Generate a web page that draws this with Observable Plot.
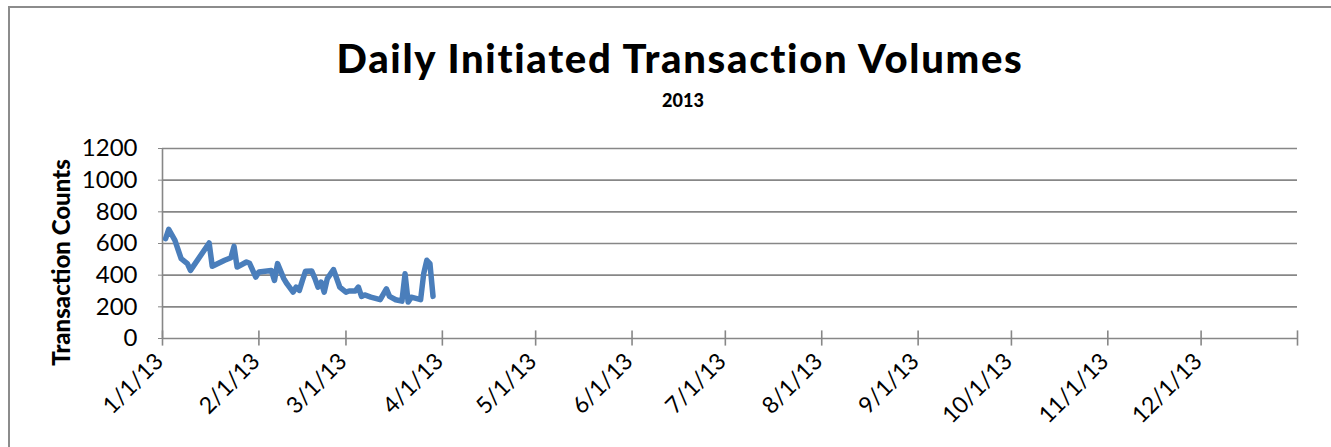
<!DOCTYPE html>
<html><head><meta charset="utf-8">
<script src="https://cdn.jsdelivr.net/npm/d3@7"></script>
<script src="https://cdn.jsdelivr.net/npm/@observablehq/plot@0.6"></script>
<style>
html,body{margin:0;padding:0;background:#fff;}
#wrap{position:relative;width:1331px;height:447px;overflow:hidden;font-family:Lato,sans-serif;}
#border{position:absolute;left:8px;top:6px;width:1400px;height:500px;border:2px solid #8c8c8c;box-sizing:border-box;}
#title{position:absolute;left:0;width:1360px;top:38px;text-align:center;font-size:40px;font-weight:900;letter-spacing:1.7px;line-height:1;color:#000;}
#sub{position:absolute;left:0;width:1366px;top:91px;text-align:center;font-size:18px;font-weight:900;line-height:1;color:#000;}
#chart{position:absolute;left:0;top:130px;}
</style></head>
<body>
<div id="wrap">
<div id="border"></div>
<div id="title">Daily Initiated Transaction Volumes</div>
<div id="sub">2013</div>
<div id="chart"></div>
</div>
<script>
const dates = ["2013-01-02","2013-01-03","2013-01-05","2013-01-07","2013-01-09","2013-01-10","2013-01-16","2013-01-17","2013-01-21","2013-01-23","2013-01-24","2013-01-25","2013-01-28","2013-01-29","2013-01-31","2013-02-01","2013-02-05","2013-02-06","2013-02-07","2013-02-09","2013-02-10","2013-02-12","2013-02-13","2013-02-14","2013-02-15","2013-02-16","2013-02-18","2013-02-19","2013-02-20","2013-02-21","2013-02-22","2013-02-23","2013-02-25","2013-02-27","2013-03-01","2013-03-02","2013-03-04","2013-03-05","2013-03-06","2013-03-07","2013-03-09","2013-03-12","2013-03-14","2013-03-15","2013-03-17","2013-03-19","2013-03-20","2013-03-21","2013-03-22","2013-03-25","2013-03-26","2013-03-27","2013-03-28","2013-03-29"];
const counts = [631,690,620,504,473,430,603,456,494,510,582,451,483,475,388,420,430,367,473,378,346,293,325,304,367,425,426,380,325,356,293,378,435,325,293,300,300,325,266,275,261,245,314,266,245,236,409,230,261,245,409,494,473,266];
const xTickDates = ["2013-01-01","2013-02-01","2013-03-01","2013-04-01","2013-05-01","2013-06-01","2013-07-01","2013-08-01","2013-09-01","2013-10-01","2013-11-01","2013-12-01","2014-01-01"];
const xTickLabels = ["1/1/13","2/1/13","3/1/13","4/1/13","5/1/13","6/1/13","7/1/13","8/1/13","9/1/13","10/1/13","11/1/13","12/1/13"];
const yTicks = [0,200,400,600,800,1000,1200];

const data = dates.map((d,i)=>({date:new Date(d), value:counts[i]}));
const tickDates = xTickDates.map(d=>new Date(d));
const labelRows = xTickLabels.map((t,i)=>({date:tickDates[i], label:t}));
const grey = "#878787";

const plot = Plot.plot({
  width:1331, height:317,
  marginTop:18, marginBottom:109, marginLeft:162, marginRight:34,
  style:{fontFamily:"Lato, sans-serif", background:"transparent", color:"#000"},
  x:{type:"utc", domain:[tickDates[0], tickDates[12]], axis:null},
  y:{domain:[0,1200], axis:null},
  marks:[
    Plot.gridY(yTicks.filter(v=>v>0), {stroke:grey, strokeOpacity:1, strokeWidth:1.6}),
    Plot.ruleY([0], {stroke:grey, strokeWidth:1.6}),
    Plot.ruleX([tickDates[0]], {stroke:grey, strokeWidth:1.6}),
    Plot.ruleX(tickDates, {x:d=>d, y1:-48, y2:48, stroke:grey, strokeWidth:1.6}),
    Plot.axisY(yTicks, {tickSize:4, tickPadding:21, fontSize:24, tickFormat:d=>String(d), stroke:grey, color:"#000", label:null}),
    Plot.text(labelRows, {x:"date", frameAnchor:"bottom", text:"label", rotate:-45, textAnchor:"end", lineAnchor:"middle", dx:-3, dy:19, fontSize:23, fill:"#000"}),
    Plot.text(["Transaction Counts"], {frameAnchor:"left", textAnchor:"middle", rotate:-90, dx:-100, dy:19, fontSize:24, fontWeight:900, fill:"#000"}),
    Plot.lineY(data, {x:"date", y:"value", stroke:"#4a7ebb", strokeWidth:5.5, strokeLinejoin:"round", strokeLinecap:"round"})
  ]
});
document.getElementById("chart").appendChild(plot);
</script>
</body></html>
